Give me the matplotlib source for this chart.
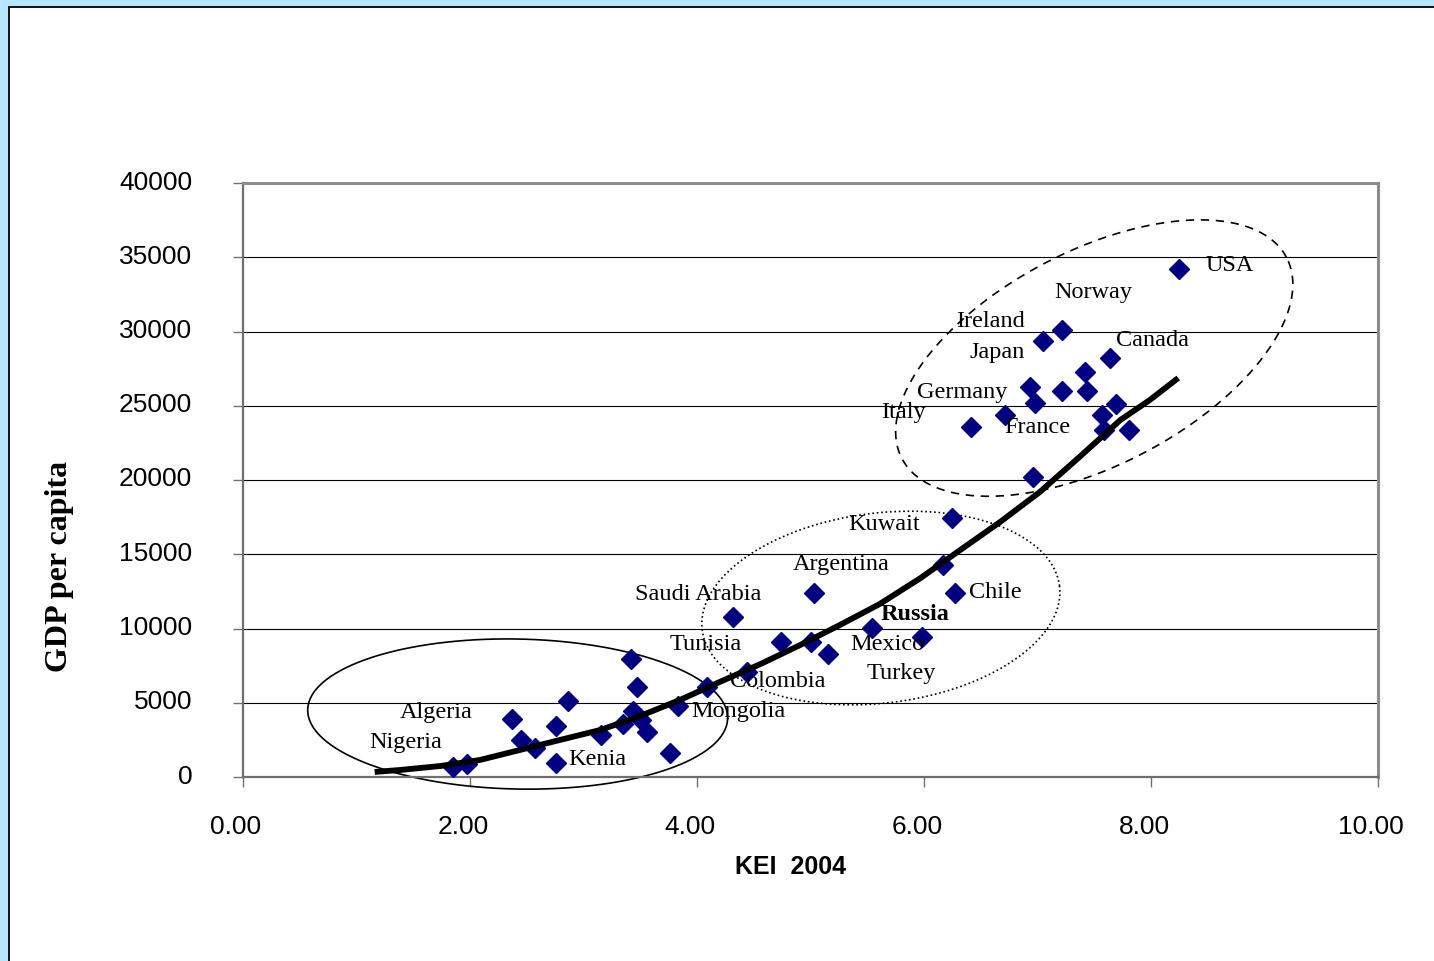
import numpy as np
import matplotlib
matplotlib.use("Agg")
import matplotlib.pyplot as plt
import matplotlib.transforms as mtransforms
from matplotlib.patches import Rectangle

# KEI 2004 vs GDP per capita
kei = [1.85, 1.97, 2.37, 2.45, 2.57, 2.76, 2.76, 2.86, 3.15, 3.35,
       3.42, 3.47, 3.44, 3.51, 3.56, 3.76, 3.83, 4.09,
       4.44, 4.32, 4.74, 5.00, 5.15, 5.03, 5.54, 5.98, 6.27, 6.17, 6.25,
       8.25, 7.22, 7.05, 7.64, 7.42, 6.93, 7.22, 7.44, 6.98, 7.69,
       6.71, 7.57, 6.41, 7.59, 7.81, 6.96]
gdp = [650, 880, 3900, 2490, 1950, 3430, 920, 5120, 2830, 3570,
       7950, 6080, 4470, 3840, 3050, 1600, 4780, 6080,
       7090, 10750, 9110, 9110, 8280, 12410, 10010, 9450, 12410, 14280, 17420,
       34210, 30100, 29360, 28240, 27290, 26280, 25990, 25990, 25200, 25100,
       24380, 24380, 23590, 23370, 23370, 20220]

# trend line
trend_x = [1.16, 1.38, 1.74, 2.09, 2.44, 2.79, 3.15, 3.50, 3.85, 4.20,
           4.56, 4.91, 5.26, 5.61, 5.97, 6.32, 6.67, 7.02, 7.37, 7.73, 7.99, 8.24]
trend_y = [340, 470, 740, 1150, 1820, 2490, 3170, 4110, 5190, 6400,
           7610, 8890, 10240, 11650, 13400, 15290, 17170, 19190, 21550, 24040, 25390, 26870]

# country labels: name, x, y (left edge / vertical centre)
labels = [("USA", 8.48, 34440), ("Norway", 7.15, 32610), ("Ireland", 6.28, 30660),
          ("Japan", 6.40, 28570), ("Canada", 7.69, 29380), ("Germany", 5.94, 25880),
          ("Italy", 5.62, 24530), ("France", 6.71, 23550), ("Kuwait", 5.33, 16970),
          ("Argentina", 4.84, 14320), ("Saudi Arabia", 3.45, 12300), ("Chile", 6.40, 12440),
          ("Russia", 5.62, 10910), ("Tunisia", 3.76, 8940), ("Mexico", 5.35, 8940),
          ("Turkey", 5.49, 6980), ("Colombia", 4.29, 6420), ("Mongolia", 3.95, 4380),
          ("Algeria", 1.38, 4330), ("Nigeria", 1.11, 2310), ("Kenia", 2.87, 1150)]

W, H = 1434, 961
fig = plt.figure(figsize=(W / 100, H / 100), dpi=100)
fig.patch.set_facecolor("#B7E6FF")
fig.patches.append(Rectangle((8.5 / W, -0.01), 1.02, 1 - 6.5 / H + 0.01, transform=fig.transFigure,
                             facecolor="white", edgecolor="black", linewidth=1.3, zorder=-5))

ax = fig.add_axes([243 / W, 1 - 777 / H, (1378 - 243) / W, (777 - 183) / H])
ax.set_xlim(0, 10)
ax.set_ylim(0, 40000)
ax.set_facecolor("white")

ax.set_yticks(np.arange(0, 40001, 5000))
ax.set_xticks(np.arange(0, 10.01, 2))
ax.xaxis.set_major_formatter(plt.FormatStrFormatter("%.2f"))
ax.tick_params(axis="both", direction="out", length=7.5, color="#707070", width=1,
               labelsize=19, labelcolor="black")
ax.tick_params(axis="y", pad=29)
ax.tick_params(axis="x", pad=20)

# Excel puts its labels a few pixels off the ticks
dx = mtransforms.ScaledTranslation(-7 / 100, 0, fig.dpi_scale_trans)
dy = mtransforms.ScaledTranslation(0, 3 / 100, fig.dpi_scale_trans)
for t in ax.get_xticklabels():
    t.set_fontfamily("Liberation Sans")
    t.set_transform(t.get_transform() + dx)
for t in ax.get_yticklabels():
    t.set_fontfamily("Liberation Sans")
    t.set_transform(t.get_transform() + dy)

for g in np.arange(5000, 40000, 5000):
    ax.axhline(g, color="black", linewidth=0.8, zorder=1)

for s in ["top", "right"]:
    ax.spines[s].set_color("#8c8c8c")
    ax.spines[s].set_linewidth(2.2)
for s in ["left", "bottom"]:
    ax.spines[s].set_color("#6e6e6e")
    ax.spines[s].set_linewidth(1.6)

ax.plot(kei, gdp, linestyle="none", marker="D", markersize=10, color="#000080", zorder=3)
ax.plot(trend_x, trend_y, color="black", linewidth=4.2, zorder=4, solid_capstyle="butt")

for name, lx, ly in labels:
    ax.text(lx, ly, name, fontsize=17.5, family="Liberation Serif", va="center", ha="left",
            fontweight="bold" if name == "Russia" else "normal", zorder=5)

# group ellipses, centre in data units, semi-axes in pixels, angle in degrees
sx = (1378 - 243) / 10
sy = (777 - 183) / 40000
t = np.linspace(0, 2 * np.pi, 400)
for cx, cy, a, b, ang, ls in [(2.42, 4240, 210, 75, -1.2, "-"),
                              (5.62, 11380, 180, 95, 7, ":"),
                              (7.50, 28210, 217, 107, 27.6, (0, (5, 4)))]:
    th = np.radians(ang)
    ex = cx + (a * np.cos(t) * np.cos(th) - b * np.sin(t) * np.sin(th)) / sx
    ey = cy + (a * np.cos(t) * np.sin(th) + b * np.sin(t) * np.cos(th)) / sy
    ax.plot(ex, ey, color="black", linestyle=ls, linewidth=1.2, clip_on=False, zorder=2)

fig.text(790 / W, 1 - 867 / H, "KEI  2004", fontsize=18, fontweight="bold",
         family="Liberation Sans", ha="center", va="center")
fig.text(60 / W, 1 - 566 / H, "GDP per capita", fontsize=23, fontweight="bold",
         family="Liberation Serif", ha="center", va="center", rotation=90)

fig.savefig("out.png", dpi=100, facecolor=fig.get_facecolor())
